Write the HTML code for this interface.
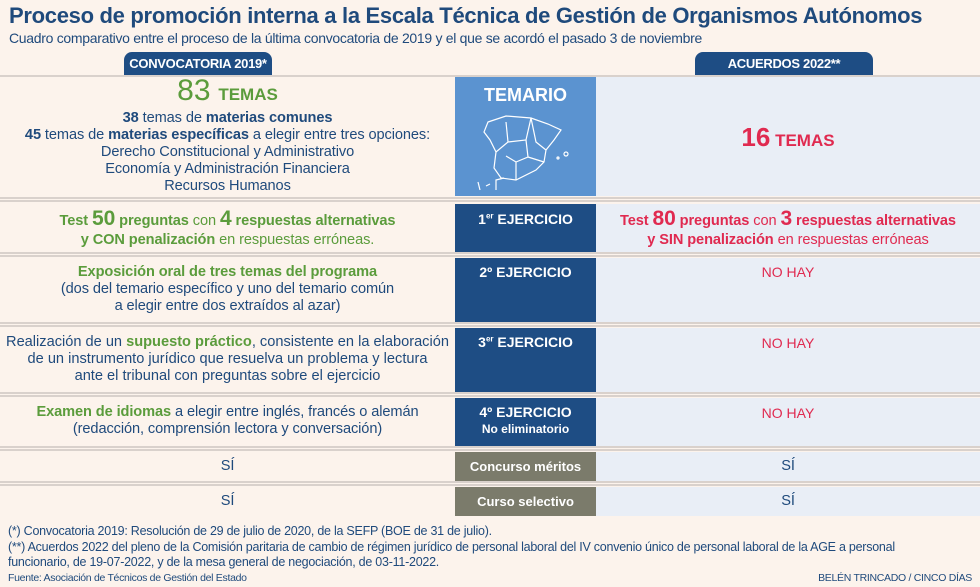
<!DOCTYPE html>
<html><head><meta charset="utf-8"><style>
*{margin:0;padding:0;box-sizing:border-box}
body{width:980px;height:587px;background:#fcf3ec;font-family:"Liberation Sans",sans-serif;position:relative;overflow:hidden;color:#1f4a7c}
.a{position:absolute}
.c{text-align:center}
.g{color:#5b9c3c}
.r{color:#e02a50}
.b{font-weight:bold}
.sep{position:absolute;left:0;width:980px;height:5px;border-top:2px solid #d9d1cc;border-bottom:2px solid #d9d1cc}
.mid{position:absolute;left:455px;width:141px;background:#1e4d84;color:#fff;font-weight:bold;font-size:14px;text-align:center}
.gray{background:#7b7b6b}
.right{position:absolute;left:596px;width:384px;background:#e9eef6}
.t{font-size:14.6px;line-height:17px;letter-spacing:-0.1px}
sup{font-size:8px}
</style></head><body>
<div class="a b" style="left:9px;top:3px;font-size:22px;letter-spacing:-0.3px;color:#1f4a7c">Proceso de promoción interna a la Escala Técnica de Gestión de Organismos Autónomos</div>
<div class="a" style="left:9px;top:30px;font-size:14px;letter-spacing:-0.3px">Cuadro comparativo entre el proceso de la última convocatoria de 2019 y el que se acordó el pasado 3 de noviembre</div>

<div class="a c b" style="left:124px;top:52px;width:148px;height:23px;background:#1e4d84;color:#fff;font-size:13px;line-height:24px;border-radius:8px 8px 0 0;letter-spacing:-0.3px">CONVOCATORIA 2019*</div>
<div class="a c b" style="left:695px;top:52px;width:178px;height:23px;background:#1e4d84;color:#fff;font-size:13px;line-height:24px;border-radius:8px 8px 0 0;letter-spacing:-0.3px">ACUERDOS 2022**</div>
<div class="a" style="left:0;top:75px;width:980px;height:2px;background:#d9d1cc"></div>

<div class="right" style="top:77px;height:119px"></div>
<div class="right" style="top:204px;height:48px"></div>
<div class="right" style="top:258px;height:64px"></div>
<div class="right" style="top:328px;height:64px"></div>
<div class="right" style="top:398px;height:48px"></div>
<div class="right" style="top:452px;height:29px"></div>
<div class="right" style="top:487px;height:29px"></div>

<div class="a c" style="left:0;top:77px;width:455px">
<div class="g" style="font-size:28px;line-height:28px;font-weight:bold"><span style="font-weight:normal;font-size:30px">83</span> <span style="font-size:17px">TEMAS</span></div>
<div class="t" style="margin-top:1px"><b>38</b> temas de <b>materias comunes</b></div>
<div class="t"><b>45</b> temas de <b>materias específicas</b> a elegir entre tres opciones:</div>
<div class="t">Derecho Constitucional y Administrativo</div>
<div class="t">Economía y Administración Financiera</div>
<div class="t">Recursos Humanos</div>
</div>
<div class="mid" style="top:77px;height:119px;background:#5b93d0;font-size:18px;padding-top:8px">TEMARIO
<svg width="100" height="80" viewBox="0 0 100 80" style="display:block;margin:6px auto 0" fill="none" stroke="#fff" stroke-width="1.2">
<path d="M12 10 L30 4 L55 6 L72 12 L85 18 L78 28 L70 38 L68 50 L60 58 L40 68 L25 66 L18 56 L20 40 L14 28 L8 20 Z"/>
<path d="M30 10 L32 30 L20 40 M32 30 L50 28 L55 6 M50 28 L52 45 L40 50 L30 44 M52 45 L68 50 M40 50 L40 68 M55 6 L60 30 L70 38"/>
<circle cx="90" cy="42" r="2"/><circle cx="82" cy="46" r="1"/>
<path d="M2 70 L4 78 M10 74 L14 72"/><path d="M20 78 L20 68 L28 66"/>
</svg></div>
<div class="a c r b" style="left:596px;top:122px;width:384px;font-size:17px"><span style="font-size:26px">16</span> TEMAS</div>
<div class="sep" style="top:197px"></div>

<div class="a c t g" style="left:0;top:209px;width:455px;line-height:19px"><b>Test <span style="font-size:21px">50</span> preguntas</b> con <b><span style="font-size:21px">4</span> respuestas alternativas</b><br><b>y CON penalización</b> en respuestas erróneas.</div>
<div class="mid" style="top:204px;height:48px;padding-top:7px">1<sup>er</sup> EJERCICIO</div>
<div class="a c t r" style="left:596px;top:209px;width:384px;line-height:19px"><b>Test <span style="font-size:21px">80</span> preguntas</b> con <b><span style="font-size:21px">3</span> respuestas alternativas</b><br><b>y SIN penalización</b> en respuestas erróneas</div>
<div class="sep" style="top:252px"></div>

<div class="a c t" style="left:0;top:264px;width:455px"><b class="g">Exposición oral de tres temas del programa</b><br>(dos del temario específico y uno del temario común<br>a elegir entre dos extraídos al azar)</div>
<div class="mid" style="top:258px;height:64px;padding-top:6px">2º EJERCICIO</div>
<div class="a c r" style="left:596px;top:264px;width:384px;font-size:14px">NO HAY</div>
<div class="sep" style="top:322px"></div>

<div class="a c t" style="left:0;top:334px;width:455px;letter-spacing:0">Realización de un <b class="g">supuesto práctico</b>, consistente en la elaboración<br>de un instrumento jurídico que resuelva un problema y lectura<br>ante el tribunal con preguntas sobre el ejercicio</div>
<div class="mid" style="top:328px;height:64px;padding-top:6px">3<sup>er</sup> EJERCICIO</div>
<div class="a c r" style="left:596px;top:335px;width:384px;font-size:14px">NO HAY</div>
<div class="sep" style="top:392px"></div>

<div class="a c t" style="left:0;top:404px;width:455px"><b class="g">Examen de idiomas</b> a elegir entre inglés, francés o alemán<br>(redacción, comprensión lectora y conversación)</div>
<div class="mid" style="top:398px;height:48px;padding-top:6px;line-height:16px">4º EJERCICIO<br><span style="font-size:12px">No eliminatorio</span></div>
<div class="a c r" style="left:596px;top:405px;width:384px;font-size:14px">NO HAY</div>
<div class="sep" style="top:446px"></div>

<div class="a c t" style="left:0;top:458px;width:455px">SÍ</div>
<div class="mid gray" style="top:452px;height:29px;line-height:29px;font-size:13px">Concurso méritos</div>
<div class="a c t" style="left:596px;top:458px;width:384px">SÍ</div>
<div class="sep" style="top:481px"></div>

<div class="a c t" style="left:0;top:493px;width:455px">SÍ</div>
<div class="mid gray" style="top:487px;height:29px;line-height:29px;font-size:13px">Curso selectivo</div>
<div class="a c t" style="left:596px;top:493px;width:384px">SÍ</div>

<div class="a" style="left:8px;top:524px;font-size:12.5px;line-height:15.5px;letter-spacing:-0.25px;width:966px">(*) Convocatoria 2019: Resolución de 29 de julio de 2020, de la SEFP (BOE de 31 de julio).<br>(**) Acuerdos 2022 del pleno de la Comisión paritaria de cambio de régimen jurídico de personal laboral del IV convenio único de personal laboral de la AGE a personal<br>funcionario, de 19-07-2022, y de la mesa general de negociación, de 03-11-2022.</div>
<div class="a" style="left:8px;top:572px;font-size:10.5px;letter-spacing:-0.3px">Fuente: Asociación de Técnicos de Gestión del Estado</div>
<div class="a" style="right:8px;top:572px;font-size:10.5px;letter-spacing:-0.3px">BELÉN TRINCADO / CINCO DÍAS</div>
</body></html>
